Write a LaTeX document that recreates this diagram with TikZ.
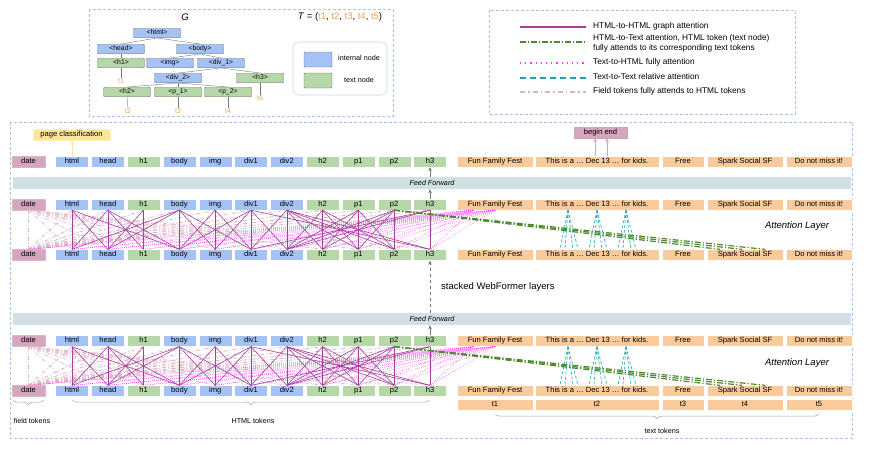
\documentclass[tikz,border=0pt]{standalone}
\usepackage{fontspec}
\setmainfont{Liberation Sans}
\usetikzlibrary{decorations.pathreplacing,arrows.meta,calc}
\definecolor{blueN}{HTML}{A4C2F4}
\definecolor{greenN}{HTML}{B6D7A8}
\definecolor{pinkN}{HTML}{D5A6BD}
\definecolor{orangeN}{HTML}{F9CB9C}
\definecolor{ffN}{HTML}{D0E0E3}
\definecolor{yellowN}{HTML}{FFE599}
\definecolor{purpleA}{HTML}{A2409B}
\definecolor{greenA}{HTML}{4E8A2C}
\definecolor{magA}{HTML}{FF33FF}
\definecolor{cyanA}{HTML}{1AA3B8}
\definecolor{pinkA}{HTML}{DDB3C8}
\definecolor{orangeT}{HTML}{F6A04D}
\definecolor{boxB}{HTML}{A9C4F0}
\definecolor{grayL}{HTML}{777777}
\begin{document}
\begin{tikzpicture}[x=1pt,y=-1pt,
  tok/.style={minimum width=33pt,minimum height=11pt,inner sep=0pt,text height=5.4pt,text depth=1.5pt,draw=white,line width=0.3pt,font=\fontsize{7.6}{8}\selectfont},
  tn/.style={minimum width=47pt,minimum height=9.5pt,inner sep=0pt,text height=5pt,text depth=1.4pt,draw=grayL,line width=0.4pt,rounded corners=1pt,font=\fontsize{6.8}{7}\selectfont},
  dbox/.style={draw=boxB,dashed,line width=0.6pt,dash pattern=on 3pt off 2pt},
  ffbar/.style={fill=ffN,minimum width=838pt,minimum height=12pt,inner sep=0pt},
  graphatt/.style={draw=purpleA,line width=0.6pt},
  htmltext/.style={draw=greenA,line width=1.2pt,dash pattern=on 6pt off 2pt on 1.2pt off 2pt},
  textatt/.style={draw=magA,line width=0.5pt,dash pattern=on 0.6pt off 1.4pt},
  relatt/.style={draw=cyanA,line width=0.6pt,dash pattern=on 3pt off 2pt},
  fieldatt/.style={draw=pinkA,line width=0.8pt,dash pattern=on 4pt off 2pt on 1pt off 2pt},
  garrow/.style={draw=grayL,line width=0.6pt,-{Stealth[length=4pt,width=3.5pt]}},
  brc/.style={draw=gray!70,line width=0.5pt,decorate,decoration={brace,mirror,amplitude=5pt}},
  lbl/.style={font=\fontsize{7.2}{8}\selectfont,inner sep=0pt,text height=5.2pt,text depth=1.4pt},
  leg/.style={font=\fontsize{8.3}{9}\selectfont,inner sep=0pt,anchor=west,text height=6pt,text depth=1.6pt},
  tl/.style={text=orangeT,font=\fontsize{7}{7}\selectfont,inner sep=0pt}
]
\useasboundingbox (0,0) rectangle (875,455);

% ---------- tree box ----------
\draw[dbox] (89,9) rectangle (393,116);
\node[font=\fontsize{9.5}{10}\selectfont\itshape] (gG) at (185,17) {G};
\node[font=\fontsize{9.5}{10}\selectfont] (gT) at (340,17) {\textit{T} = (\textcolor{orangeT}{t1}, \textcolor{orangeT}{t2}, \textcolor{orangeT}{t3}, \textcolor{orangeT}{t4}, \textcolor{orangeT}{t5})};
\node[tn,fill=blueN] (g-html) at (157,33) {<html>};
\node[tn,fill=blueN] (g-head) at (121,49) {<head>};
\node[tn,fill=blueN] (g-body) at (200,49) {<body>};
\node[tn,fill=greenN] (g-h1) at (121,63) {<h1>};
\node[tn,fill=blueN] (g-img) at (170,63) {<img>};
\node[tn,fill=blueN] (g-div1) at (221,63) {<div\_1>};
\node[tn,fill=blueN] (g-div2) at (178,78) {<div\_2>};
\node[tn,fill=greenN] (g-h3) at (260,78) {<h3>};
\node[tn,fill=greenN] (g-h2) at (127,92) {<h2>};
\node[tn,fill=greenN] (g-p1) at (178,92) {<p\_1>};
\node[tn,fill=greenN] (g-p2) at (228,92) {<p\_2>};
\foreach \p/\c in {html/head,html/body,head/h1,body/img,body/div1,div1/div2,div1/h3,div2/h2,div2/p1,div2/p2}
  \draw[grayL,line width=0.4pt] (g-\p.south) -- (g-\c.north);
\node[tl] (g-t1) at (121,81) {t1};
\node[tl] (g-t2) at (128,111) {t2};
\node[tl] (g-t3) at (178,111) {t3};
\node[tl] (g-t4) at (228,111) {t4};
\node[tl] (g-t5) at (260,98) {t5};
\foreach \p/\c in {h1/t1,h2/t2,p1/t3,p2/t4,h3/t5}
  \draw[grayL,line width=0.4pt] (g-\p.south) -- (g-\c.north);
\draw[draw=boxB!70,line width=0.6pt,rounded corners=6pt] (293,42) rectangle (387,95);
\node[tn,fill=blueN,minimum width=28pt,minimum height=15pt] (lg-int) at (318,59.5) {};
\node[tn,fill=greenN,minimum width=28pt,minimum height=15pt] (lg-txt) at (318,80.5) {};
\node[lbl] (lg-intl) at (359,59) {internal node};
\node[lbl] (lg-txtl) at (359,81) {text node};

% ---------- legend box ----------
\draw[dbox] (489,10) rectangle (795,114);
\draw[graphatt,line width=1.3pt] (520,27) -- (586,27);
\draw[htmltext,line width=1.3pt] (520,42) -- (586,42);
\draw[draw=magA,line width=1.3pt,dash pattern=on 1.2pt off 4pt] (520,63) -- (586,63);
\draw[relatt,line width=1.2pt,dash pattern=on 6pt off 4pt] (520,78) -- (586,78);
\draw[fieldatt,line width=1.2pt,dash pattern=on 5pt off 3pt on 1.5pt off 3pt] (520,92) -- (586,92);
\node[leg] (lt1) at (593,26) {HTML-to-HTML graph attention};
\node[leg] (lt2a) at (593,38) {HTML-to-Text attention, HTML token (text node)};
\node[leg] (lt2b) at (593,48.5) {fully attends to its corresponding text tokens};
\node[leg] (lt3) at (593,62.5) {Text-to-HTML fully attention};
\node[leg] (lt4) at (593,77) {Text-to-Text relative attention};
\node[leg] (lt5) at (593,91.5) {Field tokens fully attends to HTML tokens};

% ---------- main box ----------
\draw[dbox] (10.5,122) rectangle (852.5,438);
\node[ffbar] (ff1) at (432,183) {};
\node[font=\fontsize{7.2}{8}\selectfont\itshape,inner sep=0pt] (ff1l) at (432,183) {Feed Forward};
\node[ffbar] (ff2) at (432,319) {};
\node[font=\fontsize{7.2}{8}\selectfont\itshape,inner sep=0pt] (ff2l) at (432,319) {Feed Forward};

\foreach \r/\y in {1/161.5,2/204.5,3/255,4/341,5/391}{
  \node[tok,fill=pinkN,draw=pinkN!85!black!60] (r\r-date) at (28.5,\y) {date};
  \foreach \n/\c [count=\i from 0] in {html/blueN,head/blueN,h1/greenN,body/blueN,img/blueN,div1/blueN,div2/blueN,h2/greenN,p1/greenN,p2/greenN,h3/greenN}
    \node[tok,fill=\c] (r\r-\n) at ({72+35.8*\i},\y) {\n};
  \foreach \t/\x/\w/\s in {tA/495/76/Fun Family Fest,tB/597/124/This is a … Dec 13 … for kids.,tC/683/42/Free,tD/745/76/Spark Social SF,tE/819/66/Do not miss it!}
    \node[tok,fill=orangeN,minimum width=\w] (r\r-\t) at (\x,\y) {\s};
}
\foreach \t/\x/\w/\s in {tA/495/76/t1,tB/597/124/t2,tC/683/42/t3,tD/745/76/t4,tE/819/66/t5}
  \node[tok,fill=orangeN,minimum width=\w] (tr-\t) at (\x,405) {\s};

% ---------- attention layers ----------
\foreach \a/\b in {2/3,4/5}{
  \draw[fieldatt] (r\a-date.south) -- (r\b-date.north);
  \foreach \n in {html,head,h1,body,img,div1,div2,h2,p1,p2,h3}{
    \draw[fieldatt] (r\b-date.north) -- (r\a-\n.south);
    \draw[fieldatt,draw=pinkA!80] (r\a-date.south) -- (r\b-\n.north);
  }
  \foreach \n in {date,html,head,h1,body,img,div1,div2,h2,p1,p2,h3}{
    \draw[textatt] (r\a-tA.south) -- (r\b-\n.north);
    \draw[textatt] ($(r\a-tA.south)+(-22,0)$) -- (r\b-\n.north);
  }
  \foreach \u/\v in {html/html,html/head,html/body,head/html,head/head,head/h1,head/body,h1/head,h1/h1,body/html,body/head,body/body,body/img,body/div1,img/body,img/img,img/div1,div1/body,div1/img,div1/div1,div1/div2,div1/h3,div2/div1,div2/div2,div2/h2,div2/p1,div2/p2,div2/h3,h2/div2,h2/h2,h2/p1,h2/p2,p1/div2,p1/h2,p1/p1,p1/p2,p2/div2,p2/h2,p2/p1,p2/p2,h3/div1,h3/div2,h3/h3}
    \draw[graphatt] (r\a-\u.south) -- (r\b-\v.north);
  \foreach \k in {13,35,58}
    \draw[htmltext] (r\a-p2.south) -- ($(r\b-tD.north west)+(\k,0)$);
  \foreach \d in {-29,0,29}{
    \foreach \e in {-8,-3,5,10}
      \draw[relatt] ($(r\a-tB.south)+(\d,0)$) -- ($(r\b-tB.north)+({\d+\e},0)$);
  }
}
\node[font=\fontsize{9.5}{10}\selectfont\itshape,inner sep=0pt] (al1) at (797,226) {Attention Layer};
\node[font=\fontsize{9.5}{10}\selectfont\itshape,inner sep=0pt] (al2) at (797,363) {Attention Layer};

% ---------- arrows between layers ----------
\draw[garrow] (r2-h3.north) -- (r2-h3.north |- ff1.south);
\draw[garrow] (r1-h3.south |- ff1.north) -- (r1-h3.south);
\draw[garrow] (r4-h3.north) -- (r4-h3.north |- ff2.south);
\draw[garrow,dashed] (r3-h3.south |- ff2.north) -- (r3-h3.south);
\node[anchor=west,font=\fontsize{9.5}{10}\selectfont,inner sep=0pt] (stk) at (441,287) {stacked WebFormer layers};

% ---------- outputs ----------
\node[fill=yellowN,draw=yellowN!60,minimum width=77pt,minimum height=11pt,inner sep=0pt,text height=5.4pt,text depth=1.5pt,font=\fontsize{7.6}{8}\selectfont] (pc) at (71.5,134.5) {page classification};
\draw[draw=yellowN,line width=1pt,-{Stealth[length=4pt,width=4pt]}] (r1-html.north) -- (r1-html.north |- pc.south);
\node[fill=pinkN,draw=pinkN!80!black!70,minimum width=53pt,minimum height=11pt,inner sep=0pt,text height=5.4pt,text depth=1.5pt,font=\fontsize{7.6}{8}\selectfont] (be) at (600.5,132.5) {begin end};
\coordinate (bA) at ($(r1-tB.north)+(-2,0)$);
\coordinate (bB) at ($(r1-tB.north)+(10,0)$);
\draw[draw=pinkN,line width=1pt,-{Stealth[length=4pt,width=4pt]}] (bA) -- (bA |- be.south);
\draw[draw=pinkN,line width=1pt,-{Stealth[length=4pt,width=4pt]}] (bB) -- (bB |- be.south);

% ---------- braces ----------
\draw[brc] ($(r5-date.south west)+(1,3)$) -- ($(r5-date.south east)+(-1,3)$);
\node[lbl] (fld) at (32,422) {field tokens};
\draw[brc] ($(r5-html.south)+(0,3)$) -- ($(r5-h3.south)+(0,3)$);
\node[lbl] (htl) at (253,422) {HTML tokens};
\draw[brc] ($(tr-tA.south)+(0,3)$) -- ($(tr-tE.south)+(0,3)$);
\node[lbl] (txl) at (662,432) {text tokens};
\end{tikzpicture}
\end{document}
